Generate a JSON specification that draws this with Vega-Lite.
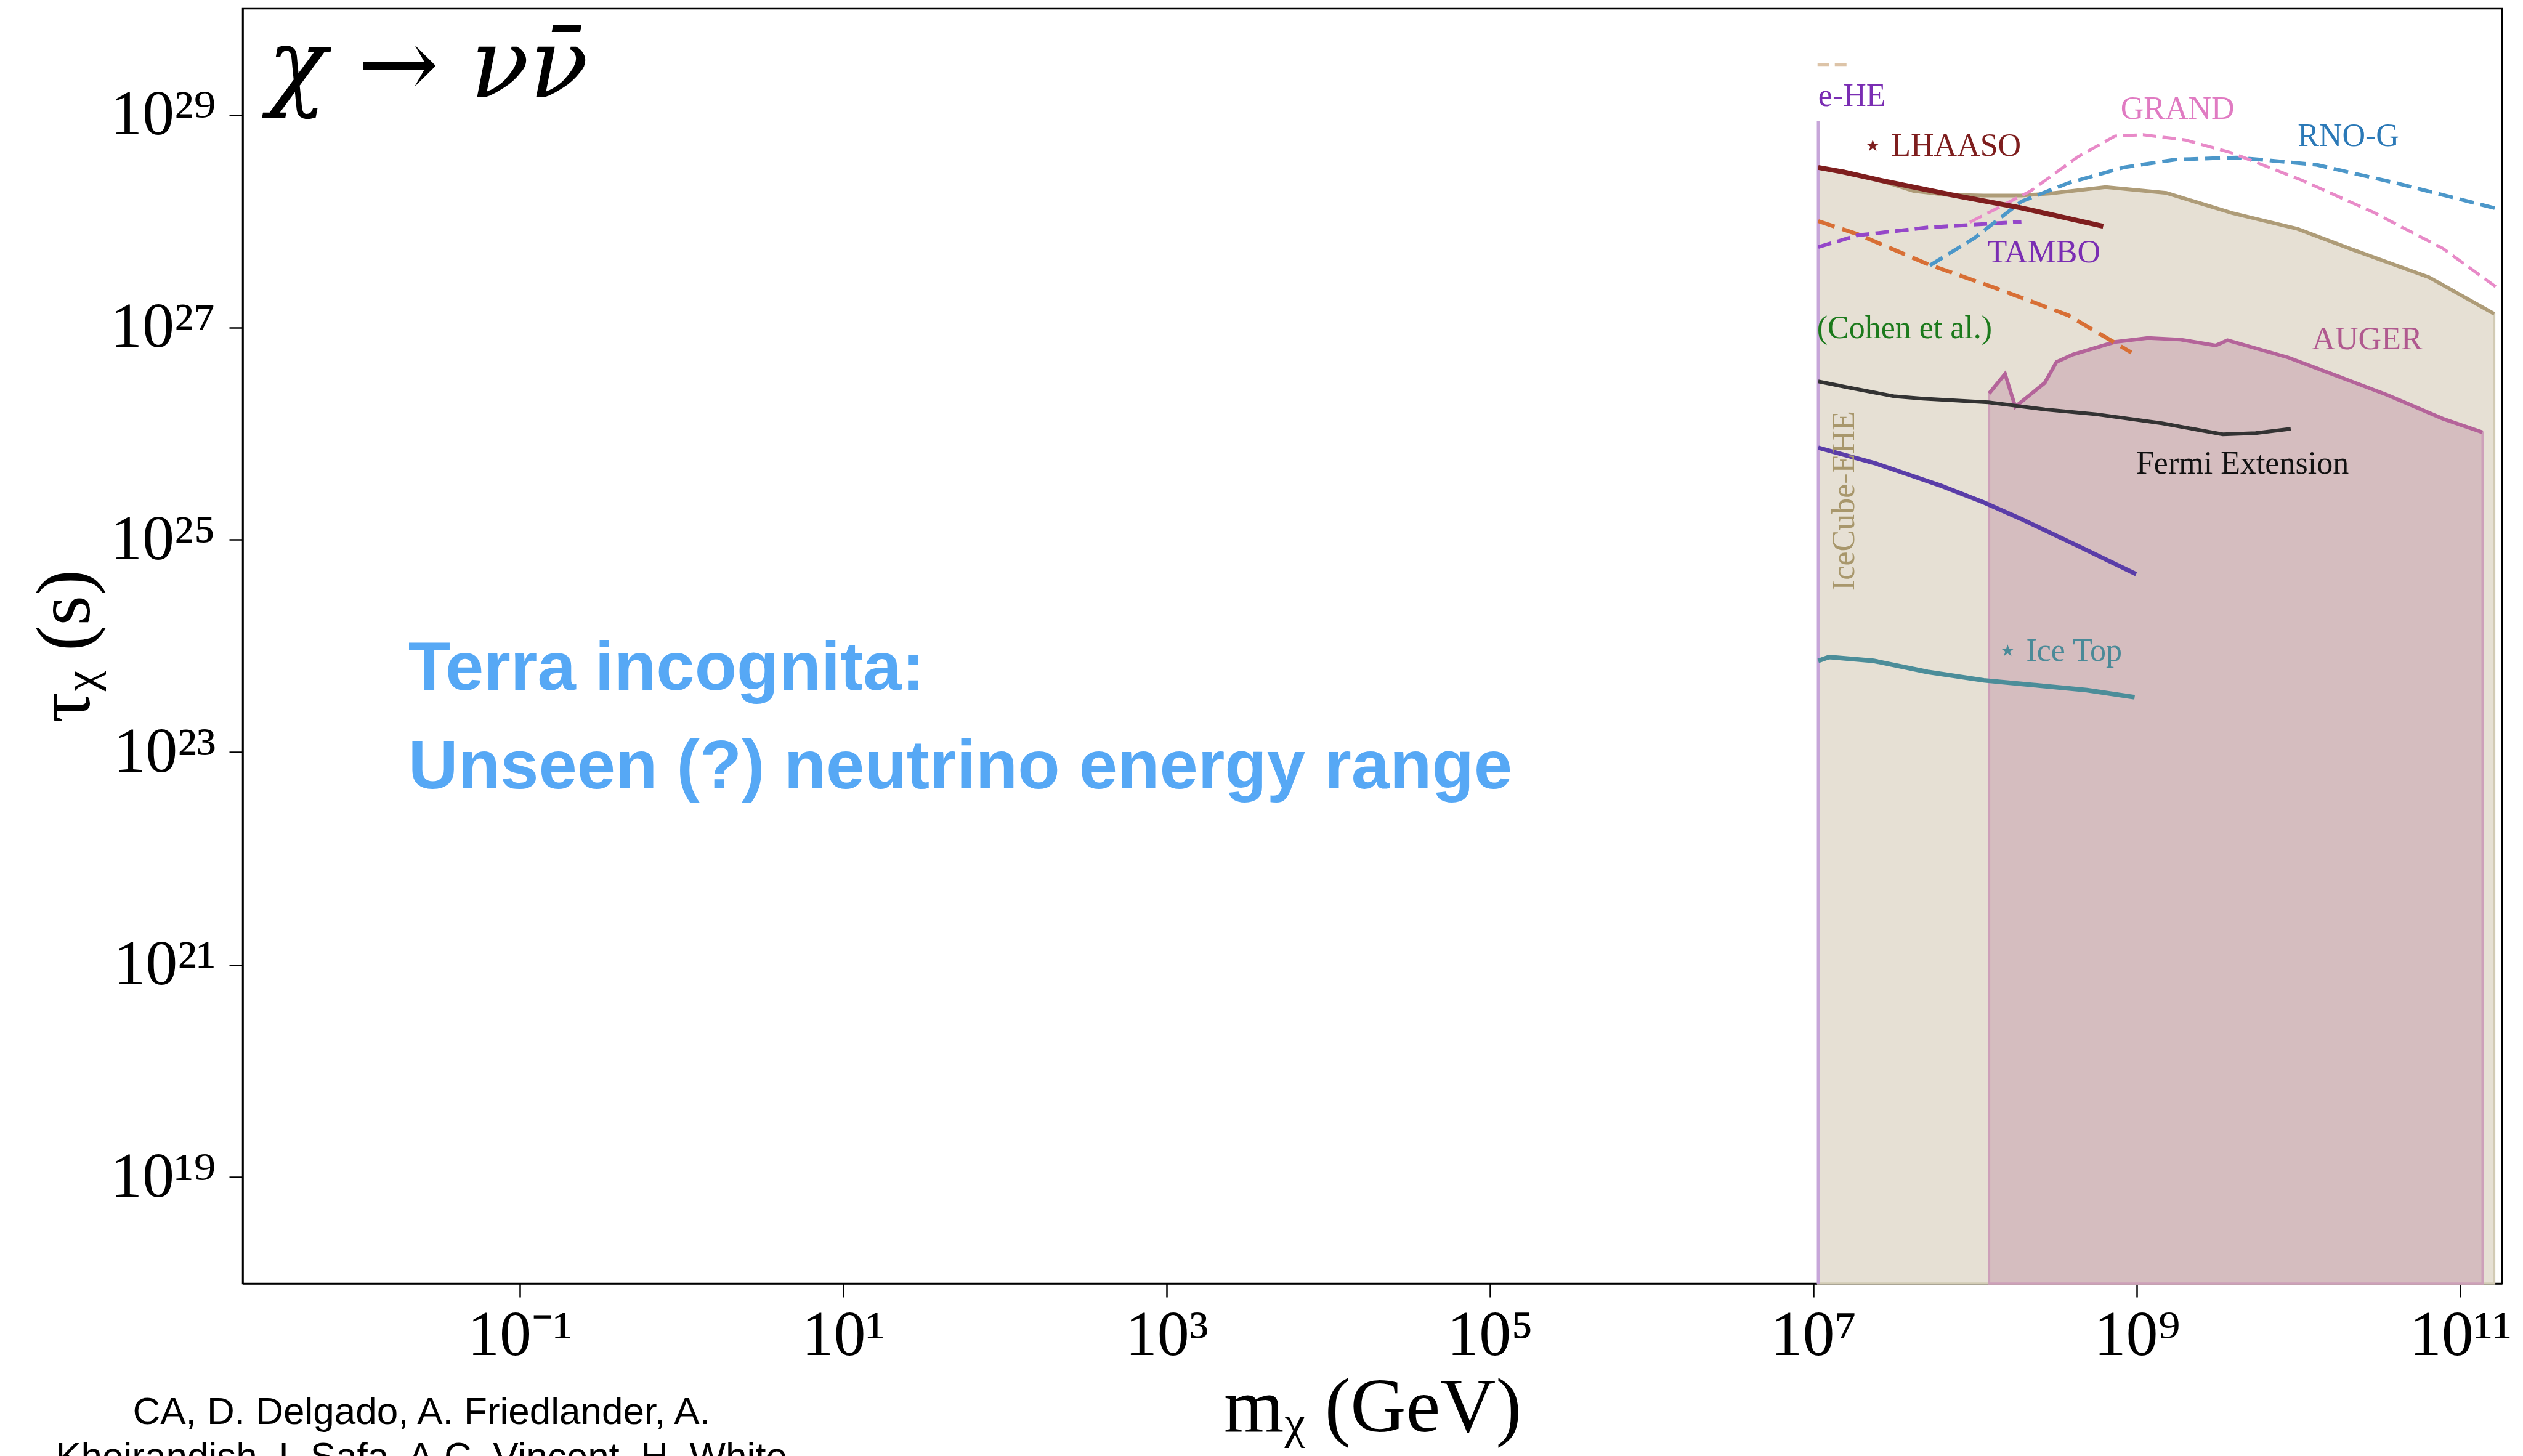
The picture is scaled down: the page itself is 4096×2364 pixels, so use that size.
{
  "$schema": "https://vega.github.io/schema/vega-lite/v6.json",
  "width": 3668,
  "height": 2070,
  "autosize": {"type": "none"},
  "padding": {"left": 394, "top": 14, "right": 34, "bottom": 280},
  "background": "white",
  "config": {"view": {"stroke": "#000000", "strokeWidth": 2.5}, "font": "Liberation Serif"},
  "datasets": {
    "ehe": [
      {"m": 1.07e7, "tau": 3.16e28}, {"m": 1.53e7, "tau": 2.94e28}, {"m": 2.44e7, "tau": 2.48e28},
      {"m": 4.16e7, "tau": 1.92e28}, {"m": 6.64e7, "tau": 1.77e28}, {"m": 1.13e8, "tau": 1.74e28},
      {"m": 1.93e8, "tau": 1.74e28}, {"m": 2.88e8, "tau": 1.82e28}, {"m": 6.41e8, "tau": 2.09e28},
      {"m": 1.52e9, "tau": 1.84e28}, {"m": 3.88e9, "tau": 1.19e28}, {"m": 9.86e9, "tau": 8.45e27},
      {"m": 2.06e10, "tau": 5.53e27}, {"m": 6.40e10, "tau": 2.96e27}, {"m": 1.62e11, "tau": 1.34e27}
    ],
    "auger": [
      {"m": 1.22e8, "tau": 2.39e26}, {"m": 1.53e8, "tau": 3.64e26}, {"m": 1.77e8, "tau": 1.79e26},
      {"m": 2.69e8, "tau": 3.00e26}, {"m": 3.18e8, "tau": 4.72e26}, {"m": 4.02e8, "tau": 5.55e26},
      {"m": 7.31e8, "tau": 7.28e26}, {"m": 1.17e9, "tau": 7.93e26}, {"m": 1.86e9, "tau": 7.67e26},
      {"m": 3.07e9, "tau": 6.75e26}, {"m": 3.63e9, "tau": 7.57e26}, {"m": 8.63e9, "tau": 5.20e26},
      {"m": 1.80e10, "tau": 3.41e26}, {"m": 3.51e10, "tau": 2.32e26}, {"m": 7.80e10, "tau": 1.38e26},
      {"m": 1.37e11, "tau": 1.03e26}
    ],
    "curves": [
      {"series": "IceCube-HE", "m": 1.07e7, "tau": 8.81e28}, {"series": "IceCube-HE", "m": 1.07e7, "tau": 1e18},
      {"series": "top-dashed", "m": 1.06e7, "tau": 2.98e29}, {"series": "top-dashed", "m": 1.66e7, "tau": 2.98e29},
      {"series": "LHAASO", "m": 1.07e7, "tau": 3.20e28}, {"series": "LHAASO", "m": 1.53e7, "tau": 2.90e28},
      {"series": "LHAASO", "m": 2.61e7, "tau": 2.42e28}, {"series": "LHAASO", "m": 7.10e7, "tau": 1.77e28},
      {"series": "LHAASO", "m": 1.93e8, "tau": 1.33e28}, {"series": "LHAASO", "m": 6.19e8, "tau": 8.95e27},
      {"series": "GRAND", "m": 9.27e7, "tau": 9.75e27}, {"series": "GRAND", "m": 2.20e8, "tau": 1.92e28},
      {"series": "GRAND", "m": 4.30e8, "tau": 4.02e28}, {"series": "GRAND", "m": 7.33e8, "tau": 6.32e28},
      {"series": "GRAND", "m": 1.09e9, "tau": 6.50e28}, {"series": "GRAND", "m": 1.99e9, "tau": 5.81e28},
      {"series": "GRAND", "m": 3.88e9, "tau": 4.38e28}, {"series": "GRAND", "m": 1.05e10, "tau": 2.42e28},
      {"series": "GRAND", "m": 2.87e10, "tau": 1.22e28}, {"series": "GRAND", "m": 7.80e10, "tau": 5.53e27},
      {"series": "GRAND", "m": 1.68e11, "tau": 2.37e27},
      {"series": "RNO-G", "m": 5.25e7, "tau": 3.83e27}, {"series": "RNO-G", "m": 9.89e7, "tau": 6.93e27},
      {"series": "RNO-G", "m": 1.93e8, "tau": 1.53e28}, {"series": "RNO-G", "m": 3.76e8, "tau": 2.28e28},
      {"series": "RNO-G", "m": 8.36e8, "tau": 3.21e28}, {"series": "RNO-G", "m": 1.74e9, "tau": 3.80e28},
      {"series": "RNO-G", "m": 4.15e9, "tau": 3.97e28}, {"series": "RNO-G", "m": 1.29e10, "tau": 3.39e28},
      {"series": "RNO-G", "m": 4.01e10, "tau": 2.28e28}, {"series": "RNO-G", "m": 1.68e11, "tau": 1.31e28},
      {"series": "TAMBO", "m": 1.07e7, "tau": 5.69e27}, {"series": "TAMBO", "m": 1.87e7, "tau": 7.35e27},
      {"series": "TAMBO", "m": 5.08e7, "tau": 8.71e27}, {"series": "TAMBO", "m": 1.93e8, "tau": 9.86e27},
      {"series": "orange-dashed", "m": 1.07e7, "tau": 1.00e28}, {"series": "orange-dashed", "m": 1.87e7, "tau": 7.55e27},
      {"series": "orange-dashed", "m": 5.08e7, "tau": 3.94e27}, {"series": "orange-dashed", "m": 1.38e8, "tau": 2.30e27},
      {"series": "orange-dashed", "m": 3.76e8, "tau": 1.30e27}, {"series": "orange-dashed", "m": 9.25e8, "tau": 5.79e26},
      {"series": "Fermi Extension", "m": 1.07e7, "tau": 3.10e26}, {"series": "Fermi Extension", "m": 1.63e7, "tau": 2.72e26},
      {"series": "Fermi Extension", "m": 3.18e7, "tau": 2.24e26}, {"series": "Fermi Extension", "m": 4.75e7, "tau": 2.13e26},
      {"series": "Fermi Extension", "m": 1.21e8, "tau": 1.97e26}, {"series": "Fermi Extension", "m": 2.69e8, "tau": 1.69e26},
      {"series": "Fermi Extension", "m": 5.61e8, "tau": 1.52e26}, {"series": "Fermi Extension", "m": 1.43e9, "tau": 1.25e26},
      {"series": "Fermi Extension", "m": 3.40e9, "tau": 9.84e25}, {"series": "Fermi Extension", "m": 5.42e9, "tau": 1.01e26},
      {"series": "Fermi Extension", "m": 8.93e9, "tau": 1.11e26},
      {"series": "purple-solid", "m": 1.07e7, "tau": 7.36e25}, {"series": "purple-solid", "m": 1.53e7, "tau": 6.34e25},
      {"series": "purple-solid", "m": 2.44e7, "tau": 5.22e25}, {"series": "purple-solid", "m": 3.89e7, "tau": 4.10e25},
      {"series": "purple-solid", "m": 6.21e7, "tau": 3.21e25}, {"series": "purple-solid", "m": 1.13e8, "tau": 2.25e25},
      {"series": "purple-solid", "m": 1.93e8, "tau": 1.57e25}, {"series": "purple-solid", "m": 4.30e8, "tau": 8.79e24},
      {"series": "purple-solid", "m": 9.89e8, "tau": 4.75e24},
      {"series": "Ice Top", "m": 1.07e7, "tau": 7.26e23}, {"series": "Ice Top", "m": 1.25e7, "tau": 7.89e23},
      {"series": "Ice Top", "m": 2.36e7, "tau": 7.26e23}, {"series": "Ice Top", "m": 5.08e7, "tau": 5.71e23},
      {"series": "Ice Top", "m": 1.13e8, "tau": 4.76e23}, {"series": "Ice Top", "m": 2.52e8, "tau": 4.24e23},
      {"series": "Ice Top", "m": 4.91e8, "tau": 3.85e23}, {"series": "Ice Top", "m": 9.68e8, "tau": 3.30e23}
    ],
    "labels": [
      {"label": "e-HE", "m": 1.07e7, "tau": 1.22e29},
      {"label": "⋆ LHAASO", "m": 2.02e7, "tau": 4.11e28},
      {"label": "GRAND", "m": 7.93e8, "tau": 9.14e28},
      {"label": "RNO-G", "m": 9.86e9, "tau": 5.09e28},
      {"label": "TAMBO", "m": 1.19e8, "tau": 4.09e27},
      {"label": "(Cohen et al.)", "m": 1.05e7, "tau": 7.94e26},
      {"label": "AUGER", "m": 1.21e10, "tau": 6.24e26},
      {"label": "Fermi Extension", "m": 9.89e8, "tau": 4.18e25},
      {"label": "⋆ Ice Top", "m": 1.38e8, "tau": 7.28e23}
    ],
    "vlabel": [{"label": "IceCube-EHE", "m": 1.78e7, "tau": 2.33e25}],
    "terra": [
      {"line": "Terra incognita:", "m": 0.0205, "tau": 3.87e23},
      {"line": "Unseen (?) neutrino energy range", "m": 0.0205, "tau": 4.57e22}
    ],
    "credits": [
      {"line": "CA, D. Delgado, A. Friedlander, A.", "m": 0.0247, "tau": 4.77e16},
      {"line": "Kheirandish, I. Safa, A.C. Vincent, H. White", "m": 0.0247, "tau": 1.80e16}
    ],
    "heading": [{"line": "χ → νν̄", "m": 0.00277, "tau": 1.46e29}]
  },
  "encoding": {
    "x": {
      "field": "m", "type": "quantitative",
      "scale": {"type": "log", "domain": [0.00194, 1.81e11], "nice": false},
      "axis": {
        "values": [0.1, 10, 1000, 100000, 10000000, 1000000000, 100000000000],
        "labelExpr": "datum.value < 1 ? '10⁻¹' : datum.value < 100 ? '10¹' : datum.value < 10000 ? '10³' : datum.value < 1000000 ? '10⁵' : datum.value < 100000000 ? '10⁷' : datum.value < 10000000000 ? '10⁹' : '10¹¹'",
        "title": "mᵪ (GeV)",
        "grid": false, "domainColor": "#000000", "domainWidth": 2.5,
        "tickColor": "#000000", "tickWidth": 2.5, "tickSize": 22,
        "labelFont": "Liberation Serif", "labelFontSize": 104, "labelColor": "#000000",
        "labelPadding": 11, "labelFlush": false, "labelOverlap": false,
        "titleFont": "Liberation Serif", "titleFontSize": 125, "titleFontWeight": "normal",
        "titleColor": "#000000", "titlePadding": 4
      }
    },
    "y": {
      "field": "tau", "type": "quantitative",
      "scale": {"type": "log", "domain": [1e18, 1e30], "nice": false},
      "axis": {
        "values": [1e19, 1e21, 1e23, 1e25, 1e27, 1e29],
        "labelExpr": "datum.value < 1e20 ? '10¹⁹' : datum.value < 1e22 ? '10²¹' : datum.value < 1e24 ? '10²³' : datum.value < 1e26 ? '10²⁵' : datum.value < 1e28 ? '10²⁷' : '10²⁹'",
        "title": "τᵪ (s)",
        "grid": false, "domainColor": "#000000", "domainWidth": 2.5,
        "tickColor": "#000000", "tickWidth": 2.5, "tickSize": 22,
        "labelFont": "Liberation Serif", "labelFontSize": 104, "labelColor": "#000000",
        "labelPadding": 22, "labelFlush": false, "labelOverlap": false,
        "titleFont": "Liberation Serif", "titleFontSize": 125, "titleFontWeight": "normal",
        "titleColor": "#000000", "titlePadding": 24
      }
    }
  },
  "layer": [
    {
      "data": {"name": "ehe"},
      "mark": {"type": "area", "fill": "#E6E0D4", "stroke": "#D2CBB5", "strokeWidth": 3.5},
      "encoding": {"y2": {"datum": 1e18}}
    },
    {
      "data": {"name": "auger"},
      "mark": {"type": "area", "fill": "#D5BDBF", "stroke": "#CDA0B9", "strokeWidth": 3.5},
      "encoding": {"y2": {"datum": 1e18}}
    },
    {
      "data": {"name": "ehe"},
      "mark": {"type": "line", "color": "#AE9C78", "strokeWidth": 6},
      "encoding": {}
    },
    {
      "data": {"name": "auger"},
      "mark": {"type": "line", "color": "#B4649A", "strokeWidth": 6},
      "encoding": {}
    },
    {
      "data": {"name": "curves"},
      "transform": [{"filter": {"field": "series", "equal": "IceCube-HE"}}],
      "mark": {"type": "line", "color": "#C7A6D9", "strokeWidth": 4.5},
      "encoding": {}
    },
    {
      "data": {"name": "curves"},
      "transform": [{"filter": {"field": "series", "equal": "top-dashed"}}],
      "mark": {"type": "line", "color": "#DDC4A8", "strokeWidth": 5, "strokeDash": [19, 9]},
      "encoding": {}
    },
    {
      "data": {"name": "curves"},
      "transform": [{"filter": {"field": "series", "equal": "Ice Top"}}],
      "mark": {"type": "line", "color": "#4B8D99", "strokeWidth": 7.5},
      "encoding": {}
    },
    {
      "data": {"name": "curves"},
      "transform": [{"filter": {"field": "series", "equal": "purple-solid"}}],
      "mark": {"type": "line", "color": "#5A3DA8", "strokeWidth": 7},
      "encoding": {}
    },
    {
      "data": {"name": "curves"},
      "transform": [{"filter": {"field": "series", "equal": "Fermi Extension"}}],
      "mark": {"type": "line", "color": "#333333", "strokeWidth": 6},
      "encoding": {}
    },
    {
      "data": {"name": "curves"},
      "transform": [{"filter": {"field": "series", "equal": "orange-dashed"}}],
      "mark": {"type": "line", "color": "#D86F35", "strokeWidth": 6.5, "strokeDash": [28, 13]},
      "encoding": {}
    },
    {
      "data": {"name": "curves"},
      "transform": [{"filter": {"field": "series", "equal": "TAMBO"}}],
      "mark": {"type": "line", "color": "#9547C9", "strokeWidth": 6, "strokeDash": [22, 10]},
      "encoding": {}
    },
    {
      "data": {"name": "curves"},
      "transform": [{"filter": {"field": "series", "equal": "RNO-G"}}],
      "mark": {"type": "line", "color": "#4C97C9", "strokeWidth": 6, "strokeDash": [24, 11]},
      "encoding": {}
    },
    {
      "data": {"name": "curves"},
      "transform": [{"filter": {"field": "series", "equal": "GRAND"}}],
      "mark": {"type": "line", "color": "#E88AC8", "strokeWidth": 5, "strokeDash": [22, 10]},
      "encoding": {}
    },
    {
      "data": {"name": "curves"},
      "transform": [{"filter": {"field": "series", "equal": "LHAASO"}}],
      "mark": {"type": "line", "color": "#7E1E1E", "strokeWidth": 8},
      "encoding": {}
    },
    {
      "data": {"name": "labels"},
      "mark": {"type": "text", "align": "left", "baseline": "alphabetic", "font": "Liberation Serif", "fontSize": 52},
      "encoding": {
        "text": {"field": "label", "type": "nominal"},
        "color": {
          "field": "label", "type": "nominal", "legend": null,
          "scale": {
            "domain": ["e-HE", "⋆ LHAASO", "GRAND", "RNO-G", "TAMBO", "(Cohen et al.)", "AUGER", "Fermi Extension", "⋆ Ice Top"],
            "range": ["#7A2DB3", "#7E1E1E", "#E07BC2", "#2B79B7", "#7A2DB3", "#1C7A1C", "#B0598F", "#111111", "#4A8A98"]
          }
        }
      }
    },
    {
      "data": {"name": "vlabel"},
      "mark": {"type": "text", "align": "center", "baseline": "alphabetic", "angle": 270, "font": "Liberation Serif", "fontSize": 52, "color": "#A8976C"},
      "encoding": {"text": {"field": "label", "type": "nominal"}}
    },
    {
      "data": {"name": "terra"},
      "mark": {"type": "text", "align": "left", "baseline": "alphabetic", "font": "Liberation Sans", "fontWeight": "bold", "fontSize": 112, "color": "#56A8F5"},
      "encoding": {"text": {"field": "line", "type": "nominal"}}
    },
    {
      "data": {"name": "credits"},
      "mark": {"type": "text", "align": "center", "baseline": "alphabetic", "font": "Liberation Sans", "fontSize": 62, "color": "#000000"},
      "encoding": {"text": {"field": "line", "type": "nominal"}}
    },
    {
      "data": {"name": "heading"},
      "mark": {"type": "text", "align": "left", "baseline": "alphabetic", "font": "DejaVu Serif", "fontStyle": "italic", "fontSize": 158, "color": "#000000"},
      "encoding": {"text": {"field": "line", "type": "nominal"}}
    }
  ]
}
